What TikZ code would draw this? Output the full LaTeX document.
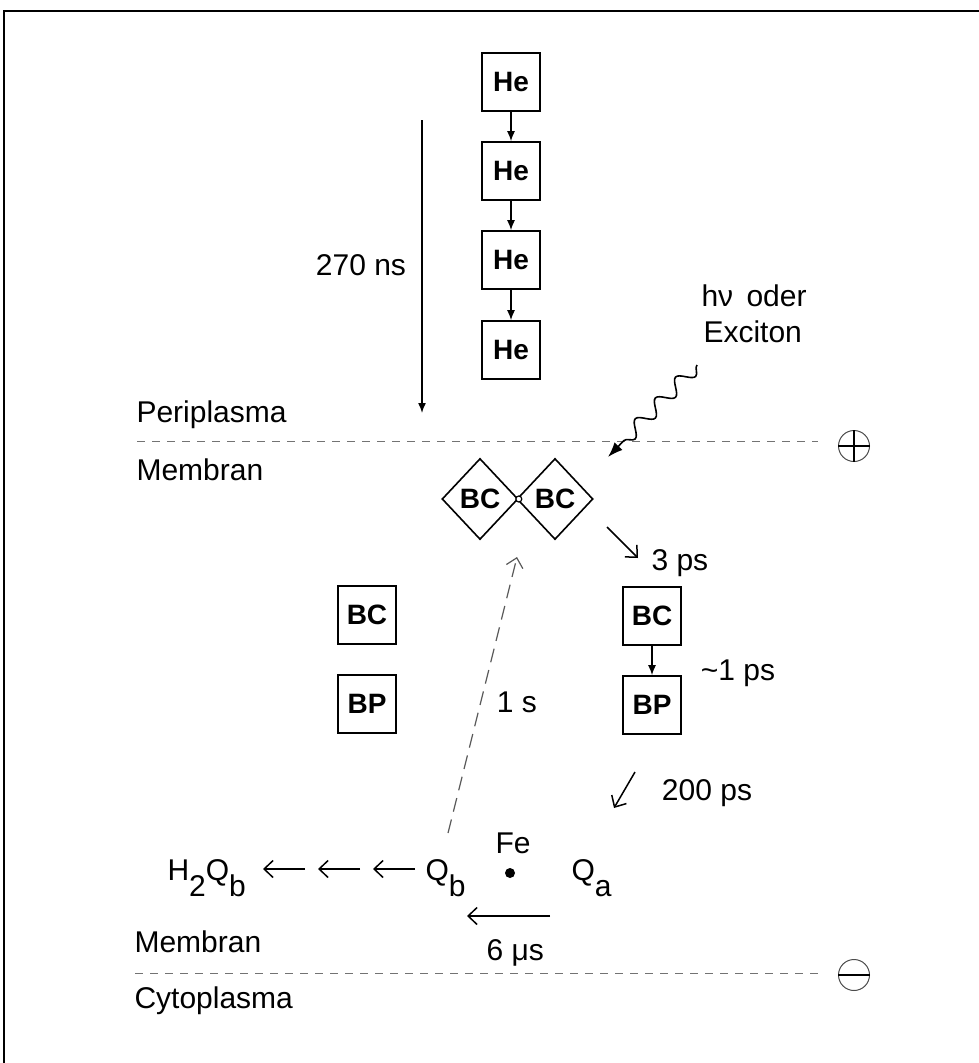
\documentclass[tikz,border=0pt]{standalone}
\usepackage{fontspec}
\setmainfont{Liberation Sans}
\usetikzlibrary{shapes.geometric,decorations.pathmorphing,arrows.meta}
\newcommand{\lowsub}[1]{\raisebox{-0.55em}{#1}}

\begin{document}
\begin{tikzpicture}[x=1pt,y=-1pt,>={Latex[length=10pt,width=8pt]},
    font=\fontsize{30}{36}\selectfont,
    pigment/.style={draw,line width=1.6pt,minimum size=58pt,inner sep=0pt,
        font=\fontsize{28}{32}\selectfont\bfseries},
    pair/.style={draw,diamond,line width=1.6pt,minimum width=76pt,
        minimum height=81pt,inner sep=0pt,font=\fontsize{28}{32}\selectfont\bfseries},
    trans/.style={->,line width=1.5pt},
    hop/.style={-{Straight Barb[length=9pt,width=17pt]},line width=1.5pt},
    border/.style={black!55,line width=1pt,dash pattern=on 8pt off 7pt},
    side/.style={circle,draw=black!70,line width=1pt,minimum size=31pt,inner sep=0pt}]

        \useasboundingbox (0,0) rectangle (979,1063);
        \draw[line width=1.5pt] (4,1063) -- (4,11) -- (979,11);

        % antenna chain
        \foreach \i/\y in {1/82,2/171,3/260,4/350}
            \node[pigment] (he\i) at (511,\y) {He};
        \foreach \i/\j in {1/2,2/3,3/4}
            \draw[trans] (he\i) -- (he\j);
        \coordinate (ns0) at (422,120);
        \coordinate (ns1) at (422,413);
        \draw[trans] (ns0) -- (ns1);
        \node (ns) at (361,265) {270 ns};

        % membrane borders
        \node[anchor=base west] (peri) at (133,422) {Periplasma};
        \node[anchor=base west] (memtop) at (133,480) {Membran};
        \draw[border] (137,441) -- (818,441);
        \node[side] (plus) at (854,446) {};
        \draw[line width=1.8pt] (plus.north) -- (plus.south);
        \draw[line width=1.8pt] (plus.west) -- (plus.east);

        \node[anchor=base west] (membot) at (131,952) {Membran};
        \node[anchor=base west] (cyto) at (131,1008) {Cytoplasma};
        \draw[border] (135,973) -- (820,973);
        \node[side] (minus) at (854,975) {};
        \draw[line width=1.8pt] (minus.west) -- (minus.east);

        % special pair
        \node[pair] (bcl) at (480,499) {BC};
        \node[pair] (bcr) at (555,499) {BC};
        \draw[line width=1.2pt,fill=white] (bcl.east) circle (3pt);

        % light
        \coordinate (hv) at (697,365);
        \coordinate (hvend) at (608,457);
        \draw[-{Latex[length=15pt,width=11pt]},line width=1.6pt,decorate,
            decoration={snake,amplitude=7pt,segment length=29pt,post length=14pt}]
            (hv) -- (hvend);
        \node[anchor=base west] (hvtext) at (698,306) {hν\, oder};
        \node[anchor=base west] (exc) at (700,342) {Exciton};

        % charge separation
        \coordinate (p3a) at (607,527);
        \coordinate (p3b) at (638,558);
        \draw[hop] (p3a) -- (p3b);
        \node[anchor=base west] (ps3) at (648,570) {3 ps};

        \node[pigment] (bc) at (652,616) {BC};
        \node[pigment] (bp) at (652,705) {BP};
        \draw[trans] (bc) -- (bp);
        \node (ps1) at (738,673) {\textasciitilde1 ps};

        \node[pigment] (bcs) at (367,615) {BC};
        \node[pigment] (bps) at (367,704) {BP};

        \coordinate (p200a) at (635,772);
        \coordinate (p200b) at (614,808);
        \draw[hop] (p200a) -- (p200b);
        \node (ps200) at (707,793) {200 ps};

        % quinones
        \node[anchor=base west] (h2qb) at (164,880) {H\lowsub{2}Q\lowsub{b}};
        \node[anchor=base west] (qb) at (422,880) {Q\lowsub{b}};
        \node[anchor=base west] (qa) at (568,880) {Q\lowsub{a}};
        \node[anchor=base] (fe) at (513,853) {Fe};
        \fill (510,873) circle (5pt);

        \foreach \i/\a/\b in {1/305/263,2/360/318,3/415/373}
        {
            \coordinate (ra\i) at (\a,869);
            \coordinate (rb\i) at (\b,869);
            \draw[hop] (ra\i) -- (rb\i);
        }
        \coordinate (q6a) at (550,916);
        \coordinate (q6b) at (467,916);
        \draw[hop] (q6a) -- (q6b);
        \node[anchor=base west] (us6) at (483,960) {6 μs};

        \coordinate (back) at (517,557);
        \draw[-{Straight Barb[length=9pt,width=17pt]},black!65,line width=1.2pt,
            dash pattern=on 14pt off 8pt] (448,833) -- (back);
        \node (s1) at (517,702) {1 s};
\end{tikzpicture}
\end{document}
